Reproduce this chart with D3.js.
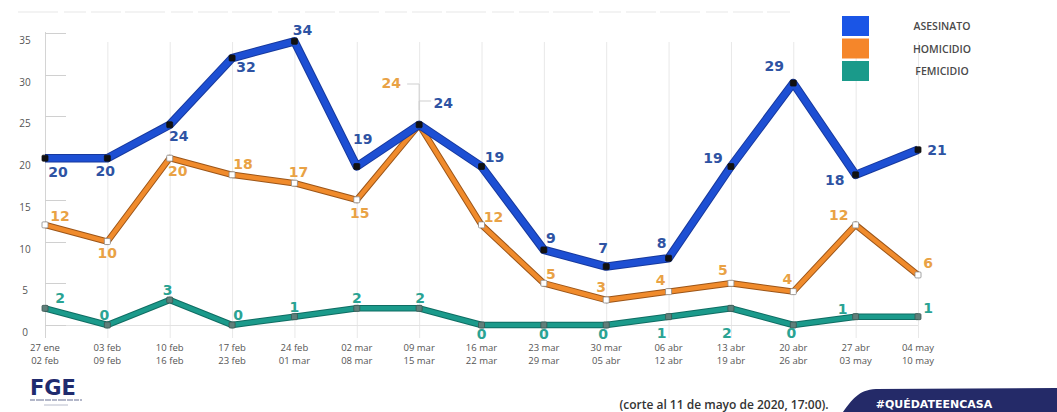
<!DOCTYPE html>
<html lang="es">
<head>
  <meta charset="UTF-8">
  <title>asesinato homicidio femicidio</title>
  <script src="https://d3js.org/d3.v7.min.js"></script>
  <style>
    html, body { margin: 0; padding: 0; background: #fff; }
    svg { display: block; }
  </style>
</head>
<body>
  <div id="chart"></div>
  <script>
    // semanas (dos renglones por etiqueta)
    var weeksFrom = ["27 ene", "03 feb", "10 feb", "17 feb", "24 feb", "02 mar", "09 mar", "16 mar",
                     "23 mar", "30 mar", "06 abr", "13 abr", "20 abr", "27 abr", "04 may"];
    var weeksTo = ["02 feb", "09 feb", "16 feb", "23 feb", "01 mar", "08 mar", "15 mar", "22 mar",
                   "29 mar", "05 abr", "12 abr", "19 abr", "26 abr", "03 may", "10 may"];

    var asesinato = [20, 20, 24, 32, 34, 19, 24, 19, 9, 7, 8, 19, 29, 18, 21];
    var homicidio = [12, 10, 20, 18, 17, 15, 24, 12, 5, 3, 4, 5, 4, 12, 6];
    var femicidio = [2, 0, 3, 0, 1, 2, 2, 0, 0, 0, 1, 2, 0, 1, 1];

    var yTicks = [0, 5, 10, 15, 20, 25, 30, 35];
    var legendNames = ["ASESINATO", "HOMICIDIO", "FEMICIDIO"];

    // desplazamiento de cada etiqueta de valor respecto a su punto
    var asesinatoLabelOff = [[13, 14], [-2, 13], [9, 11], [14, 9], [8, -11], [6, -27], [24, -22], [13, -9],
                             [7, -12], [-3, -19], [-7, -15], [-18, -8], [-19, -17], [-21, 5], [19, 0]];
    var homicidioLabelOff = [[15, -9], [0, 11], [8, 13], [11, -11], [4, -11], [3, 13], [-28, -42], [12, -8],
                             [7, -9], [-5, -13], [-8, -12], [-8, -13], [-6, -13], [-17, -10], [10, -12]];
    var femicidioLabelOff = [[15, -10], [-3, -10], [-2, -10], [6, -10], [0, -10], [0, -10], [1, -10], [0, 9],
                             [0, 9], [-3, 9], [-7, 16], [-4, 25], [-2, 8], [-13, -8], [10, -9]];

    var width = 1057, height = 412;

    var svg = d3.select("#chart").append("svg")
      .attr("width", width)
      .attr("height", height);

    var x = d3.scalePoint().domain(d3.range(weeksFrom.length)).range([45, 918]);
    var y = d3.scaleLinear().domain([0, 35]).range([325, 33]);

    // linea tenue arriba (titulo recortado)
    svg.append("line")
      .attr("x1", 18).attr("x2", 790).attr("y1", 12).attr("y2", 12)
      .attr("stroke", "#f3f3f3").attr("stroke-width", 2)
      .attr("stroke-dasharray", "40 6 22 5 30 4");

    // rejilla vertical
    svg.append("g").selectAll("line")
      .data(d3.range(weeksFrom.length))
      .join("line")
      .attr("x1", function (i) { return x(i) + 0.5; })
      .attr("x2", function (i) { return x(i) + 0.5; })
      .attr("y1", function (i) { return i == 0 ? 32 : 42; })
      .attr("y2", 338)
      .attr("stroke", function (i) { return i == 0 ? "#d4d4d4" : "#e8e8e8"; })
      .attr("stroke-width", 1);

    // linea base
    svg.append("line")
      .attr("x1", x(0)).attr("x2", x(weeksFrom.length - 1))
      .attr("y1", y(0) + 0.5).attr("y2", y(0) + 0.5)
      .attr("stroke", "#e2e2e2");

    // marcas cortas del eje y
    svg.append("g").selectAll("line")
      .data(yTicks)
      .join("line")
      .attr("x1", 45).attr("x2", 66)
      .attr("y1", function (d) { return Math.round(y(d)) + 0.5; })
      .attr("y2", function (d) { return Math.round(y(d)) + 0.5; })
      .attr("stroke", "#d0d0d0");

    svg.append("g").selectAll("text")
      .data(yTicks)
      .join("text")
      .attr("x", 25)
      .attr("y", function (d) { return y(d) + 11; })
      .attr("text-anchor", "middle")
      .attr("font-family", "'Open Sans', sans-serif")
      .attr("font-size", 10)
      .attr("fill", "#555")
      .text(function (d) { return d; });

    // etiquetas del eje x
    var xl = svg.append("g").selectAll("text")
      .data(d3.range(weeksFrom.length))
      .join("text")
      .attr("text-anchor", "middle")
      .attr("font-family", "'Open Sans', sans-serif")
      .attr("font-size", 9.5)
      .attr("fill", "#555");
    xl.append("tspan")
      .attr("x", function (i) { return x(i); })
      .attr("y", 351)
      .text(function (i) { return weeksFrom[i]; });
    xl.append("tspan")
      .attr("x", function (i) { return x(i); })
      .attr("y", 364)
      .text(function (i) { return weeksTo[i]; });

    // lineas guia de las etiquetas de 09 mar
    svg.append("polyline")
      .attr("points", [[x(6), 120], [x(6), 101], [x(6) + 12, 101]].join(" "))
      .attr("fill", "none").attr("stroke", "#cfcfcf");
    svg.append("polyline")
      .attr("points", [[x(6), 110], [x(6), 84], [x(6) - 12, 84]].join(" "))
      .attr("fill", "none").attr("stroke", "#cfcfcf");

    var line = d3.line()
      .x(function (d, i) { return x(i); })
      .y(function (d) { return y(d); });

    var series = [
      { values: femicidio, edge: "#0f6d63", color: "#1b9a8b", w: 5, marker: "#5f7f7a", mstroke: "#3c5753", label: "#2aa393", off: femicidioLabelOff },
      { values: homicidio, edge: "#9c5518", color: "#f08b2c", w: 5, marker: "#ffffff", mstroke: "#8a8a8a", label: "#e9a245", off: homicidioLabelOff },
      { values: asesinato, edge: "#17399e", color: "#1d4fd3", w: 7, marker: "#111111", mstroke: "#111111", label: "#2e53a3", off: asesinatoLabelOff }
    ];

    series.forEach(function (s) {
      var g = svg.append("g");
      g.append("path")
        .attr("d", line(s.values))
        .attr("fill", "none")
        .attr("stroke", s.edge)
        .attr("stroke-width", s.w + 1.5)
        .attr("stroke-linejoin", "round");
      g.append("path")
        .attr("d", line(s.values))
        .attr("fill", "none")
        .attr("stroke", s.color)
        .attr("stroke-width", s.w - 0.5)
        .attr("stroke-linejoin", "round");
      g.selectAll("rect")
        .data(s.values)
        .join("rect")
        .attr("x", function (d, i) { return x(i) - 3; })
        .attr("y", function (d) { return y(d) - 3; })
        .attr("width", 6).attr("height", 6)
        .attr("rx", 1)
        .attr("fill", s.marker)
        .attr("stroke", s.mstroke)
        .attr("stroke-width", 0.8);
    });

    // etiquetas de valores
    series.forEach(function (s) {
      svg.append("g").selectAll("text")
        .data(s.values)
        .join("text")
        .attr("x", function (d, i) { return x(i) + s.off[i][0]; })
        .attr("y", function (d, i) { return y(d) + s.off[i][1] + 5; })
        .attr("text-anchor", "middle")
        .attr("font-family", "'DejaVu Sans', sans-serif")
        .attr("font-weight", "bold")
        .attr("font-size", 14)
        .attr("fill", s.label)
        .text(function (d) { return d; });
    });

    // leyenda
    var legendColors = ["#1a55e6", "#f5862a", "#1a9a8a"];
    var lg = svg.append("g");
    lg.selectAll("rect")
      .data(legendNames)
      .join("rect")
      .attr("x", 842)
      .attr("y", function (d, i) { return 16 + i * 22.5; })
      .attr("width", 27).attr("height", 20)
      .attr("fill", function (d, i) { return legendColors[i]; });
    lg.selectAll("text")
      .data(legendNames)
      .join("text")
      .attr("x", 942)
      .attr("y", function (d, i) { return 30 + i * 22.5; })
      .attr("text-anchor", "middle")
      .attr("font-family", "'Open Sans', sans-serif")
      .attr("font-weight", 600)
      .attr("font-size", 10.5)
      .attr("fill", "#4a4a4a")
      .text(function (d) { return d; });

    // pie: logo FGE
    svg.append("text")
      .attr("x", 30).attr("y", 395)
      .attr("font-family", "'DejaVu Sans', sans-serif")
      .attr("font-weight", "bold")
      .attr("font-size", 21)
      .attr("fill", "#1f2b6e")
      .text("FGE");
    svg.append("line")
      .attr("x1", 30).attr("x2", 82).attr("y1", 400).attr("y2", 400)
      .attr("stroke", "#9aa0b8").attr("stroke-width", 1.5).attr("stroke-dasharray", "5 1 8 1 6 1");
    svg.append("line")
      .attr("x1", 44).attr("x2", 68).attr("y1", 405).attr("y2", 405)
      .attr("stroke", "#b8bccc").attr("stroke-width", 1);

    svg.append("text")
      .attr("x", 724).attr("y", 409)
      .attr("text-anchor", "middle")
      .attr("font-family", "'Open Sans', sans-serif")
      .attr("font-weight", 600)
      .attr("font-size", 12)
      .attr("fill", "#333")
      .text("(corte al 11 de mayo de 2020, 17:00).");

    // banda azul inferior
    svg.append("path")
      .attr("d", "M843,412 C852,400 858,390 876,389 L1057,388 L1057,412 Z")
      .attr("fill", "#242a68");
    svg.append("text")
      .attr("x", 934).attr("y", 408)
      .attr("text-anchor", "middle")
      .attr("font-family", "'DejaVu Sans', sans-serif")
      .attr("font-weight", "bold")
      .attr("font-size", 11)
      .attr("fill", "#fff")
      .text("#QUÉDATEENCASA");
  </script>
</body>
</html>
